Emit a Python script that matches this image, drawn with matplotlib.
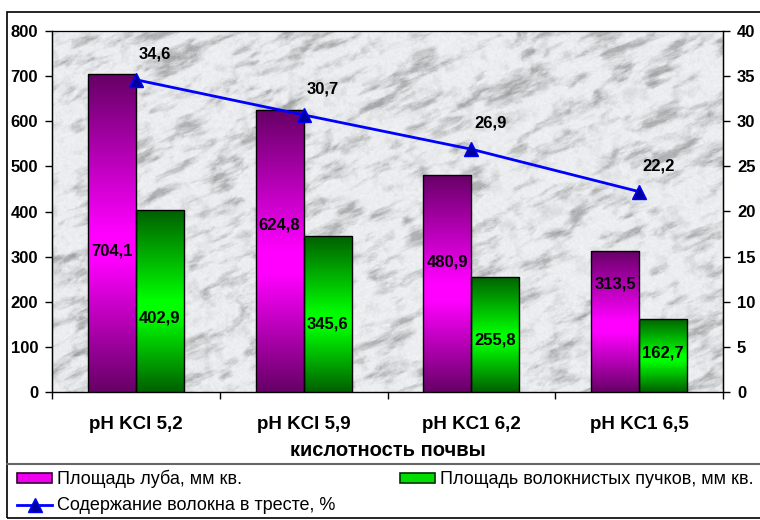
import numpy as np
import matplotlib
matplotlib.use("Agg")
import matplotlib.pyplot as plt
from matplotlib.colors import LinearSegmentedColormap
from matplotlib.patches import Rectangle
from matplotlib.lines import Line2D

# soil acidity groups
categories = ["pH KCl 5,2", "pH KCl 5,9", "pH KC1 6,2", "pH KC1 6,5"]
bast_area = [704.1, 624.8, 480.9, 313.5]          # площадь луба, мм кв.
bundle_area = [402.9, 345.6, 255.8, 162.7]        # площадь волокнистых пучков, мм кв.
fiber_content = [34.6, 30.7, 26.9, 22.2]          # содержание волокна, %

bast_labels = ["704,1", "624,8", "480,9", "313,5"]
bundle_labels = ["402,9", "345,6", "255,8", "162,7"]
fiber_labels = ["34,6", "30,7", "26,9", "22,2"]

# heights (left-axis units) where the in-bar labels sit
bast_label_y = [313, 371, 289, 240]
bundle_label_y = [164, 151, 116, 87]

FONT = "Liberation Sans"
W, H = 760, 520
fig = plt.figure(figsize=(W / 100, H / 100), dpi=100)
fig.patch.set_facecolor("white")


def fx(x):
    return x / W


def fy(y):
    return 1 - y / H


# outer frame and legend separator
fig.patches.append(Rectangle((fx(7), fy(518)), fx(770), 506 / H, transform=fig.transFigure,
                             fill=False, edgecolor="black", linewidth=1.2))
fig.lines.append(Line2D([fx(7), fx(760)], [fy(463.5), fy(463.5)], transform=fig.transFigure,
                        color="#666666", linewidth=1.5))

L, R, T, B = 52, 723, 31, 392
ax = fig.add_axes([fx(L), fy(B), (R - L) / W, (B - T) / H])


# --- marble texture for the plot area ---
rng = np.random.default_rng(5)
lattice = rng.random((256, 256))


def sample(u, v):
    iu = np.floor(u).astype(int)
    iv = np.floor(v).astype(int)
    fu = u - iu
    fv = v - iv
    fu = fu * fu * (3 - 2 * fu)
    fv = fv * fv * (3 - 2 * fv)
    a = lattice[iv % 256, iu % 256]
    b = lattice[iv % 256, (iu + 1) % 256]
    c = lattice[(iv + 1) % 256, iu % 256]
    d = lattice[(iv + 1) % 256, (iu + 1) % 256]
    return (a + (b - a) * fu) * (1 - fv) + (c + (d - c) * fu) * fv


def fbm(u, v, octaves=5):
    total, amp, norm = 0.0, 1.0, 0.0
    for o in range(octaves):
        total = total + amp * sample(u * 2 ** o + 17.3 * o, v * 2 ** o + 31.7 * o)
        norm += amp
        amp *= 0.55
    return total / norm


th, tw = B - T, R - L
yy, xx = np.mgrid[0:th, 0:tw].astype(float)
ang = np.deg2rad(25)
along = xx * np.cos(ang) - yy * np.sin(ang)
across = xx * np.sin(ang) + yy * np.cos(ang)
warp = 1.4 * fbm(xx / 55.0, yy / 55.0, 4)
streak = fbm(along / 26.0 + warp, across / 9.0 + warp * 0.6, 6)
dark = np.clip((streak - 0.47) / 0.30, 0, 1) ** 1.5
blot = np.clip((fbm(xx / 12.0 + 50, yy / 12.0 + 50, 4) - 0.55) / 0.25, 0, 1)
grain = fbm(xx / 2.0 + 100, yy / 2.0 + 100, 2) - 0.5
shade = 0.94 - 0.24 * dark - 0.07 * blot + 0.05 * grain
shade = np.clip(shade, 0.55, 0.97)
marble = np.clip(np.dstack([shade * 0.985, shade * 0.99, shade * 1.0]), 0, 1)

x = np.arange(len(categories))
bw = 0.286
ax.imshow(marble, extent=[-0.5, 3.5, 0, 800], aspect="auto", zorder=0, origin="upper",
          interpolation="bilinear")

# vertical gradient: dark at the ends, bright a bit below middle
purple_cm = LinearSegmentedColormap.from_list(
    "purple", [(0, "#660066"), (0.42, "#ff00ff"), (0.5, "#ff00ff"), (1, "#660066")])
green_cm = LinearSegmentedColormap.from_list(
    "green", [(0, "#006000"), (0.42, "#00ff00"), (0.5, "#00ff00"), (1, "#006000")])
grad = np.linspace(0, 1, 256).reshape(-1, 1)


def gradient_bars(xpos, vals, cmap):
    bars = ax.bar(xpos, vals, bw, facecolor="none", edgecolor="black", linewidth=1.0, zorder=3)
    for rect in bars:
        x0 = rect.get_x()
        im = ax.imshow(grad, extent=[x0, x0 + rect.get_width(), 0, rect.get_height()],
                       aspect="auto", cmap=cmap, origin="lower", zorder=2)
        im.set_clip_path(rect)
    return bars


gradient_bars(x - bw / 2, bast_area, purple_cm)
gradient_bars(x + bw / 2, bundle_area, green_cm)

for i in range(len(categories)):
    ax.text(x[i] - bw / 2, bast_label_y[i], bast_labels[i], ha="center", va="center",
            fontsize=12, fontweight="bold", family=FONT, zorder=5)
    ax.text(x[i] + bw / 2, bundle_label_y[i], bundle_labels[i], ha="center", va="center",
            fontsize=12, fontweight="bold", family=FONT, zorder=5)

ax.set_xlim(-0.5, 3.5)
ax.set_ylim(0, 800)
ax.set_yticks(range(0, 801, 100))
ax.set_xticks(x)
ax.set_xticklabels(categories)
ax.set_xticks(np.arange(-0.5, 3.6, 1), minor=True)
ax.tick_params(axis="x", which="major", length=0, pad=17, labelsize=13.5)
ax.tick_params(axis="x", which="minor", length=5, width=1, direction="out")
ax.tick_params(axis="y", length=5, width=1, direction="out", pad=5, labelsize=12)
for lab in ax.get_xticklabels() + ax.get_yticklabels():
    lab.set_fontweight("bold")
    lab.set_family(FONT)
ax.spines["top"].set_color("#888888")
ax.spines["bottom"].set_color("#444444")
for s in ax.spines.values():
    s.set_linewidth(1.0)

ax2 = ax.twinx()
ax2.set_ylim(0, 40)
ax2.set_yticks(range(0, 41, 5))
ax2.tick_params(axis="y", length=5, width=1, direction="out", pad=5, labelsize=12)
for lab in ax2.get_yticklabels():
    lab.set_fontweight("bold")
    lab.set_family(FONT)
ax2.plot(x, fiber_content, color="#0000ff", linewidth=2, marker="^", markersize=10,
         markerfacecolor="#0000a0", markeredgecolor="#0000ff", zorder=6)
for i in range(len(categories)):
    ax2.annotate(fiber_labels[i], (x[i], fiber_content[i]), xytext=(19, 26),
                 textcoords="offset pixels", ha="center", va="center",
                 fontsize=12, fontweight="bold", family=FONT)

fig.text(fx(388), fy(450), "кислотность почвы", ha="center", va="center",
         fontsize=14.5, fontweight="bold", family=FONT)

# legend
leg_font = dict(fontsize=13, family=FONT, va="center", ha="left")
fig.patches.append(Rectangle((fx(17), fy(483)), 35 / W, 10 / H, transform=fig.transFigure,
                             facecolor="#ee00ee", edgecolor="#330033", linewidth=1.2))
fig.text(fx(57), fy(479), "Площадь луба, мм кв.", **leg_font)
fig.patches.append(Rectangle((fx(400), fy(483)), 35 / W, 10 / H, transform=fig.transFigure,
                             facecolor="#00dd00", edgecolor="#003300", linewidth=1.2))
fig.text(fx(440), fy(479), "Площадь волокнистых пучков, мм кв.", **leg_font)
fig.lines.append(Line2D([fx(17), fx(52)], [fy(505), fy(505)], transform=fig.transFigure,
                        color="#0000ff", linewidth=2))
fig.lines.append(Line2D([fx(34.5)], [fy(505)], transform=fig.transFigure, marker="^",
                        markersize=10, markerfacecolor="#0000a0", markeredgecolor="#0000ff"))
fig.text(fx(57), fy(505), "Содержание волокна в тресте, %", **leg_font)

fig.savefig("out.png", dpi=100)
